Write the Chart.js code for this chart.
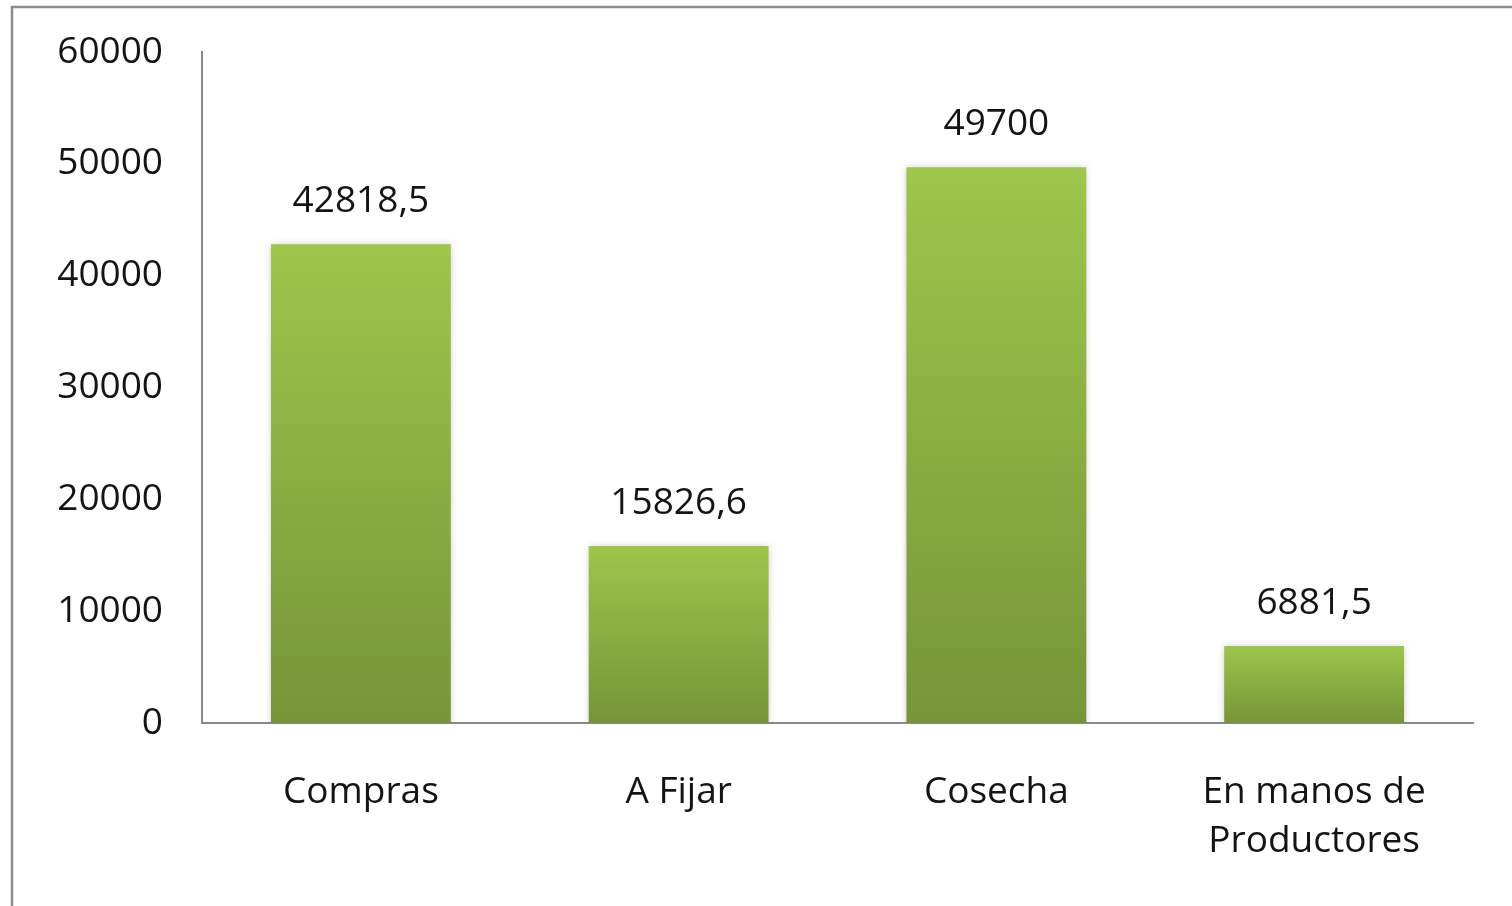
<!DOCTYPE html>
<html>
<head>
<meta charset="utf-8">
<script src="https://cdn.jsdelivr.net/npm/chart.js@4"></script>
<style>
html,body{margin:0;padding:0;background:#fff;}
#wrap{width:1512px;height:906px;position:relative;}
</style>
</head>
<body>
<div id="wrap"><canvas id="c" width="1512" height="906"></canvas></div>
<script>
const categories = ["Compras", "A Fijar", "Cosecha", ["En manos de", "Productores"]];
const values = [42818.5, 15826.6, 49700, 6881.5];
const valueLabels = ["42818,5", "15826,6", "49700", "6881,5"];
const yTicks = [0, 10000, 20000, 30000, 40000, 50000, 60000];

const FONT = "'Open Sans', sans-serif";

const framePlugin = {
  id: 'frame',
  beforeDraw(chart) {
    const c = chart.ctx;
    c.save();
    c.fillStyle = '#fff';
    c.fillRect(0, 0, chart.width, chart.height);
    c.strokeStyle = '#8c8c8c';
    c.lineWidth = 2.5;
    c.beginPath();
    c.moveTo(12, chart.height + 5);
    c.lineTo(12, 7);
    c.lineTo(chart.width + 5, 7);
    c.stroke();
    c.restore();
  }
};

const shadowPlugin = {
  id: 'barShadow',
  beforeDatasetsDraw(chart) {
    const c = chart.ctx;
    c.save();
    c.shadowColor = 'rgba(0,0,0,0.22)';
    c.shadowBlur = 7;
    c.shadowOffsetX = 0;
    c.shadowOffsetY = 1;
  },
  afterDatasetsDraw(chart) {
    chart.ctx.restore();
  }
};

const labelPlugin = {
  id: 'valueLabels',
  afterDatasetsDraw(chart) {
    const c = chart.ctx;
    const meta = chart.getDatasetMeta(0);
    c.save();
    c.font = '37px ' + FONT;
    c.fillStyle = '#141414';
    c.textAlign = 'center';
    c.textBaseline = 'middle';
    meta.data.forEach((bar, i) => {
      c.fillText(valueLabels[i], bar.x, bar.y - 43);
    });
    c.restore();
  }
};

function barGradient(context) {
  const chart = context.chart;
  const ys = chart.scales.y;
  if (!ys || context.dataIndex === undefined) return '#8db242';
  const top = ys.getPixelForValue(values[context.dataIndex]);
  const bottom = ys.getPixelForValue(0);
  if (!isFinite(top) || !isFinite(bottom) || top === bottom) return '#8db242';
  const g = chart.ctx.createLinearGradient(0, top, 0, bottom);
  g.addColorStop(0, '#9dc64b');
  g.addColorStop(1, '#769538');
  return g;
}

new Chart(document.getElementById('c'), {
  type: 'bar',
  data: {
    labels: categories,
    datasets: [{
      data: values,
      backgroundColor: barGradient,
      borderWidth: 0,
      categoryPercentage: 1,
      barPercentage: 0.566
    }]
  },
  options: {
    responsive: false,
    animation: false,
    devicePixelRatio: 1,
    layout: { padding: { top: 52, right: 39, bottom: 0, left: 0 } },
    plugins: { legend: { display: false }, tooltip: { enabled: false } },
    scales: {
      y: {
        min: 0, max: 60000,
        afterBuildTicks(scale) { scale.ticks = yTicks.map(v => ({ value: v })); },
        afterFit(scale) { scale.width = 202; scale.paddingTop = 0; scale.paddingBottom = 0; },
        grid: { display: false, drawTicks: false },
        border: { display: true, color: '#8a8a8a', width: 2 },
        ticks: {
          padding: 39,
          color: '#141414',
          font: { family: FONT, size: 37 },
          callback: v => String(v)
        }
      },
      x: {
        afterFit(scale) { scale.height = 183; scale.paddingLeft = 0; scale.paddingRight = 0; },
        grid: { display: false, drawTicks: false },
        border: { display: true, color: '#8a8a8a', width: 2 },
        ticks: {
          padding: 44,
          maxRotation: 0,
          autoSkip: false,
          color: '#141414',
          font: { family: FONT, size: 37, lineHeight: 1.35 }
        }
      }
    }
  },
  plugins: [framePlugin, shadowPlugin, labelPlugin]
});
</script>
</body>
</html>
